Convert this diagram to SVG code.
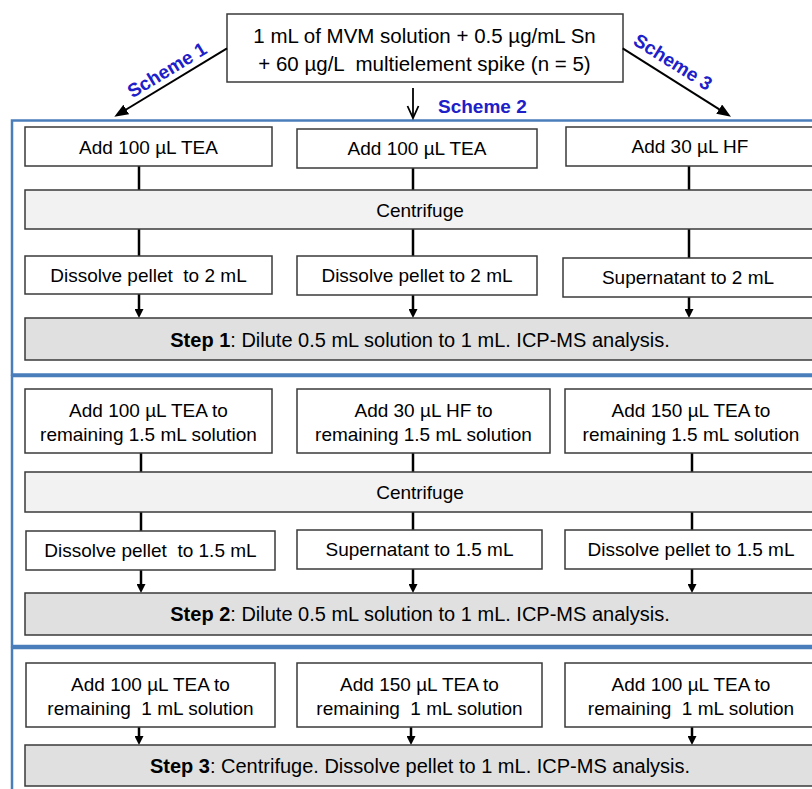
<svg xmlns="http://www.w3.org/2000/svg" width="812" height="789" viewBox="0 0 812 789">
<style>
text{font-family:"Liberation Sans",Arial,sans-serif;fill:#000;white-space:pre}
.t{font-size:19px;text-anchor:middle}
.top{font-size:20.5px;text-anchor:middle}
.st{font-size:20px;text-anchor:middle}
.sch{font-size:19px;font-weight:bold;fill:#2020c8}
.box{fill:#fff;stroke:#3a3a3a;stroke-width:1.5}
.cen{fill:#f2f2f2;stroke:#3a3a3a;stroke-width:1.5}
.step{fill:#e0e0e0;stroke:#3a3a3a;stroke-width:1.5}
.frame{fill:none;stroke:#4a7ebb;stroke-width:2.5}
.c{stroke:#000;stroke-width:2.5;fill:none}
.ca{stroke:#000;stroke-width:2.5;fill:none;marker-end:url(#sa)}
.sc{stroke:#000;stroke-width:2;fill:none;marker-end:url(#la)}
</style>
<defs>
<marker id="sa" viewBox="0 0 10 10" refX="2" refY="5" markerWidth="9" markerHeight="9" markerUnits="userSpaceOnUse" orient="auto"><path d="M0,0 L10,5 L0,10 z" fill="#000"/></marker>
<marker id="la" viewBox="0 0 14 11" refX="3" refY="5.5" markerWidth="14" markerHeight="11" markerUnits="userSpaceOnUse" orient="auto"><path d="M0,0 L14,5.5 L0,11 z" fill="#000"/></marker>
</defs>
<rect width="812" height="789" fill="#fff"/>

<g id="frames">
<rect class="frame" x="12" y="120.5" width="820" height="254"/>
<rect class="frame" x="12" y="376" width="820" height="270"/>
<rect class="frame" x="12" y="648" width="820" height="160"/>
</g>

<g id="start"><rect class="box" x="227" y="14" width="396" height="68"/>
<text class="top" x="424.5" y="43">1 mL of MVM solution + 0.5 µg/mL Sn</text>
<text class="top" x="424.5" y="71">+ 60 µg/L  multielement spike (n = 5)</text></g>

<g id="scheme-labels">
<text class="sch" text-anchor="middle" transform="translate(167,70) rotate(-31.3)" y="6.5">Scheme 1</text>
<text class="sch" x="438" y="113">Scheme 2</text>
<text class="sch" text-anchor="middle" transform="translate(673,62) rotate(32.3)" y="6.5">Scheme 3</text>
</g>

<g id="connectors">
<line class="sc" x1="227" y1="48.3" x2="123.7" y2="111"/>
<line class="sc" x1="622.7" y1="48.3" x2="721.7" y2="110.8"/>
<line x1="413" y1="88" x2="413" y2="117" stroke="#000" stroke-width="1.8"/>
<polyline points="407.5,106 413,118 418.5,106" fill="none" stroke="#000" stroke-width="1.8"/>
<!-- section 1 -->
<line class="c" x1="139" y1="166" x2="139" y2="190"/>
<line class="c" x1="413" y1="168" x2="413" y2="190"/>
<line class="c" x1="689" y1="166" x2="689" y2="190"/>
<line class="c" x1="139" y1="229" x2="139" y2="256"/>
<line class="c" x1="413" y1="229" x2="413" y2="256"/>
<line class="c" x1="689" y1="229" x2="689" y2="258"/>
<line class="ca" x1="139" y1="294" x2="139" y2="310.8"/>
<line class="ca" x1="413" y1="295" x2="413" y2="310.8"/>
<line class="ca" x1="689" y1="297" x2="689" y2="310.8"/>
<!-- section 2 -->
<line class="c" x1="141" y1="453" x2="141" y2="472"/>
<line class="c" x1="413" y1="453" x2="413" y2="472"/>
<line class="c" x1="692" y1="453" x2="692" y2="472"/>
<line class="c" x1="141" y1="512" x2="141" y2="531"/>
<line class="c" x1="413" y1="512" x2="413" y2="530"/>
<line class="c" x1="692" y1="512" x2="692" y2="530"/>
<line class="ca" x1="141" y1="570" x2="141" y2="585.8"/>
<line class="ca" x1="413" y1="569" x2="413" y2="585.8"/>
<line class="ca" x1="692" y1="569" x2="692" y2="585.8"/>
<!-- section 3 -->
<line class="ca" x1="139" y1="727" x2="139" y2="737.8"/>
<line class="ca" x1="411" y1="727" x2="411" y2="737.8"/>
<line class="ca" x1="692" y1="727" x2="692" y2="737.8"/>
</g>

<g id="s1-a"><rect class="box" x="25" y="127" width="247" height="39"/><text class="t" x="148.5" y="154">Add 100 µL TEA</text></g>
<g id="s1-b"><rect class="box" x="297" y="129" width="240" height="39"/><text class="t" x="417" y="155">Add 100 µL TEA</text></g>
<g id="s1-c"><rect class="box" x="566" y="127" width="252" height="39"/><text class="t" x="690" y="153">Add 30 µL HF</text></g>
<g id="s1-centrifuge"><rect class="cen" x="25" y="190" width="795" height="39"/><text class="t" x="420" y="217">Centrifuge</text></g>
<g id="s1-d"><rect class="box" x="25" y="256" width="247" height="38"/><text class="t" x="148.5" y="282">Dissolve pellet  to 2 mL</text></g>
<g id="s1-e"><rect class="box" x="297" y="256" width="240" height="39"/><text class="t" x="417" y="282">Dissolve pellet to 2 mL</text></g>
<g id="s1-f"><rect class="box" x="563" y="258" width="255" height="39"/><text class="t" x="688" y="284">Supernatant to 2 mL</text></g>
<g id="step1"><rect class="step" x="25" y="318" width="795" height="42"/><text class="st" x="420" y="347"><tspan font-weight="bold">Step 1</tspan>: Dilute 0.5 mL solution to 1 mL. ICP-MS analysis.</text></g>

<g id="s2-a"><rect class="box" x="25" y="389" width="247" height="64"/><text class="t" x="148.5" y="417">Add 100 µL TEA to</text><text class="t" x="148.5" y="441">remaining 1.5 mL solution</text></g>
<g id="s2-b"><rect class="box" x="297" y="389" width="253" height="64"/><text class="t" x="423.5" y="417">Add 30 µL HF to</text><text class="t" x="423.5" y="441">remaining 1.5 mL solution</text></g>
<g id="s2-c"><rect class="box" x="565" y="389" width="253" height="64"/><text class="t" x="691" y="417">Add 150 µL TEA to</text><text class="t" x="691" y="441">remaining 1.5 mL solution</text></g>
<g id="s2-centrifuge"><rect class="cen" x="25" y="472" width="795" height="40"/><text class="t" x="420" y="499">Centrifuge</text></g>
<g id="s2-d"><rect class="box" x="26" y="531" width="249" height="39"/><text class="t" x="150.5" y="557">Dissolve pellet  to 1.5 mL</text></g>
<g id="s2-e"><rect class="box" x="297" y="530" width="245" height="39"/><text class="t" x="419.5" y="556">Supernatant to 1.5 mL</text></g>
<g id="s2-f"><rect class="box" x="565" y="530" width="253" height="39"/><text class="t" x="691" y="556">Dissolve pellet to 1.5 mL</text></g>
<g id="step2"><rect class="step" x="25" y="593" width="795" height="42"/><text class="st" x="420" y="621"><tspan font-weight="bold">Step 2</tspan>: Dilute 0.5 mL solution to 1 mL. ICP-MS analysis.</text></g>

<g id="s3-a"><rect class="box" x="26" y="663" width="249" height="64"/><text class="t" x="150.5" y="691">Add 100 µL TEA to</text><text class="t" x="150.5" y="715">remaining  1 mL solution</text></g>
<g id="s3-b"><rect class="box" x="297" y="663" width="245" height="64"/><text class="t" x="419.5" y="691">Add 150 µL TEA to</text><text class="t" x="419.5" y="715">remaining  1 mL solution</text></g>
<g id="s3-c"><rect class="box" x="565" y="663" width="253" height="64"/><text class="t" x="691" y="691">Add 100 µL TEA to</text><text class="t" x="691" y="715">remaining  1 mL solution</text></g>
<g id="step3"><rect class="step" x="25" y="745" width="795" height="41"/><text class="st" x="420" y="773"><tspan font-weight="bold">Step 3</tspan>: Centrifuge. Dissolve pellet to 1 mL. ICP-MS analysis.</text></g>
</svg>
